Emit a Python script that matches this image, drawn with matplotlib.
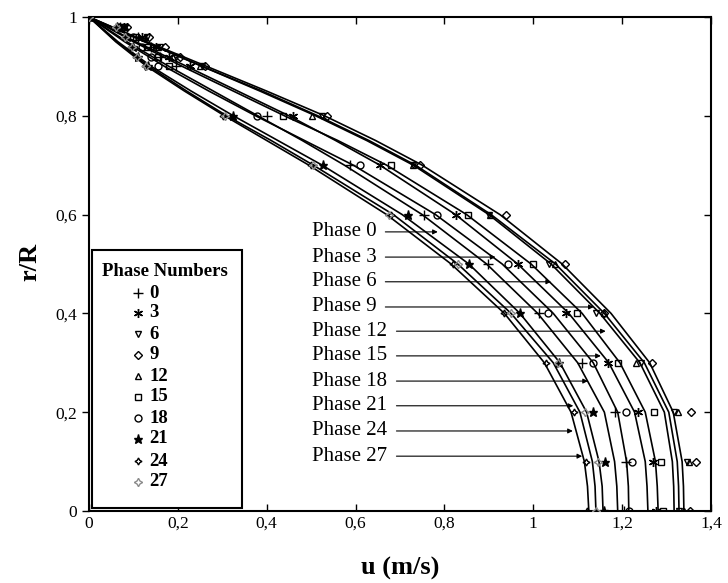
import matplotlib
matplotlib.use("Agg")
import matplotlib.pyplot as plt
from matplotlib.patches import Rectangle

plt.rcParams['font.family'] = ['Liberation Serif', 'DejaVu Serif']

# measured points (r/R levels shared by all phases)
r_meas = [1.0, 0.98, 0.96, 0.94, 0.92, 0.9, 0.8, 0.7, 0.6, 0.5, 0.4, 0.3, 0.2, 0.1, 0.0]

u_ph0 = [0, 0.070, 0.110, 0.140, 0.160, 0.195, 0.400, 0.588, 0.753, 0.899, 1.012, 1.110, 1.185, 1.208, 1.204]
u_ph3 = [0, 0.078, 0.120, 0.150, 0.180, 0.228, 0.460, 0.656, 0.825, 0.965, 1.073, 1.168, 1.235, 1.269, 1.276]
u_ph6 = [0, 0.080, 0.130, 0.160, 0.195, 0.255, 0.525, 0.730, 0.900, 1.035, 1.141, 1.242, 1.316, 1.345, 1.328]
u_ph9 = [0, 0.085, 0.135, 0.170, 0.205, 0.262, 0.535, 0.745, 0.938, 1.071, 1.160, 1.267, 1.355, 1.366, 1.352]
u_ph12 = [0, 0.080, 0.125, 0.155, 0.190, 0.250, 0.503, 0.730, 0.902, 1.048, 1.159, 1.231, 1.325, 1.350, 1.340]
u_ph15 = [0, 0.072, 0.105, 0.130, 0.155, 0.180, 0.437, 0.680, 0.854, 0.999, 1.098, 1.190, 1.272, 1.287, 1.292]
u_ph18 = [0, 0.068, 0.100, 0.120, 0.140, 0.155, 0.378, 0.610, 0.784, 0.942, 1.033, 1.134, 1.208, 1.222, 1.215]
u_ph21 = [0, 0.062, 0.085, 0.100, 0.110, 0.133, 0.325, 0.526, 0.717, 0.855, 0.969, 1.058, 1.134, 1.161, 1.159]
u_ph24 = [0, 0.060, 0.080, 0.095, 0.105, 0.125, 0.302, 0.500, 0.679, 0.820, 0.933, 1.028, 1.091, 1.118, 1.121]
u_ph27 = [0, 0.060, 0.082, 0.097, 0.108, 0.128, 0.305, 0.505, 0.675, 0.830, 0.949, 1.055, 1.116, 1.145, 1.142]

# fitted profiles
r_fit = [1.0, 0.95, 0.9, 0.85, 0.8, 0.75, 0.7, 0.6, 0.5, 0.4, 0.3, 0.2, 0.1, 0.05, 0.0]

fit_ph0 = [0, 0.085, 0.180, 0.280, 0.380, 0.480, 0.575, 0.750, 0.895, 1.010, 1.100, 1.160, 1.183, 1.188, 1.190]
fit_ph3 = [0, 0.105, 0.220, 0.335, 0.450, 0.555, 0.655, 0.825, 0.965, 1.080, 1.170, 1.228, 1.252, 1.256, 1.258]
fit_ph6 = [0, 0.125, 0.255, 0.385, 0.510, 0.625, 0.730, 0.900, 1.040, 1.150, 1.240, 1.295, 1.313, 1.316, 1.317]
fit_ph9 = [0, 0.130, 0.265, 0.400, 0.530, 0.645, 0.750, 0.925, 1.065, 1.175, 1.262, 1.315, 1.335, 1.338, 1.339]
fit_ph12 = [0, 0.125, 0.255, 0.390, 0.515, 0.630, 0.735, 0.905, 1.050, 1.160, 1.250, 1.305, 1.324, 1.327, 1.328]
fit_ph15 = [0, 0.100, 0.210, 0.325, 0.440, 0.560, 0.670, 0.850, 0.995, 1.110, 1.195, 1.252, 1.275, 1.279, 1.281]
fit_ph18 = [0, 0.080, 0.170, 0.270, 0.375, 0.485, 0.595, 0.780, 0.930, 1.045, 1.135, 1.190, 1.210, 1.214, 1.215]
fit_ph21 = [0, 0.065, 0.140, 0.230, 0.325, 0.425, 0.525, 0.705, 0.855, 0.970, 1.060, 1.120, 1.148, 1.155, 1.157]
fit_ph24 = [0, 0.060, 0.130, 0.215, 0.305, 0.400, 0.495, 0.670, 0.815, 0.935, 1.025, 1.085, 1.115, 1.122, 1.125]
fit_ph27 = [0, 0.062, 0.135, 0.220, 0.310, 0.410, 0.505, 0.685, 0.830, 0.950, 1.045, 1.105, 1.133, 1.139, 1.141]

phases = [0, 3, 6, 9, 12, 15, 18, 21, 24, 27]
u_meas = [u_ph0, u_ph3, u_ph6, u_ph9, u_ph12, u_ph15, u_ph18, u_ph21, u_ph24, u_ph27]
u_fit = [fit_ph0, fit_ph3, fit_ph6, fit_ph9, fit_ph12, fit_ph15, fit_ph18, fit_ph21, fit_ph24, fit_ph27]

# where the label arrows end (u, r/R) and where the labels sit
arrow_u = [0.785, 0.915, 1.040, 1.136, 1.163, 1.152, 1.123, 1.090, 1.089, 1.110]
label_r = [0.565, 0.514, 0.464, 0.413, 0.364, 0.314, 0.263, 0.213, 0.162, 0.111]

markers = ['+', (6, 2, 0), 'v', 'D', '^', 's', 'o', '*', (4, 1, 0), (4, 1, 0)]
msizes = [6.5, 6.5, 5, 4.5, 5, 4.5, 5, 6.5, 5, 6]
mcolors = ['black'] * 9 + ['#8c8c8c']
mfill = ['none', 'black', 'none', 'none', 'none', 'none', 'none', 'black', 'none', 'none']

fig = plt.figure(figsize=(7.28, 5.83), dpi=100)
ax = fig.add_axes([89 / 728, 72 / 583, 622 / 728, 494 / 583])

for uf in u_fit:
    ax.plot(uf, r_fit, color='black', lw=1.2, zorder=2)

for um, mk, ms, mc, mf in zip(u_meas, markers, msizes, mcolors, mfill):
    ax.plot(um, r_meas, linestyle='none', marker=mk, ms=ms, mec=mc, mfc=mf,
            mew=1.0, zorder=3)

for ph, ua, rl in zip(phases, arrow_u, label_r):
    ax.text(0.503, rl, 'Phase %d' % ph, fontsize=15, ha='left', va='center')
    x0 = 0.667 if ph < 10 else 0.692
    ax.annotate('', xy=(ua, rl), xytext=(x0, rl),
                arrowprops=dict(arrowstyle='-|>', lw=0.8, color='black',
                                mutation_scale=7, shrinkA=0, shrinkB=0))

ax.set_xlim(0, 1.4)
ax.set_ylim(0, 1)
xt = [0, 0.2, 0.4, 0.6, 0.8, 1.0, 1.2, 1.4]
yt = [0, 0.2, 0.4, 0.6, 0.8, 1.0]
ax.set_xticks(xt)
ax.set_yticks(yt)
ax.set_xticklabels(['0', '0,2', '0,4', '0,6', '0,8', '1', '1,2', '1,4'], fontsize=12.5)
ax.set_yticklabels(['0', '0,2', '0,4', '0,6', '0,8', '1'], fontsize=12.5)
ax.tick_params(axis='x', direction='in', length=5, top=True, width=1)
ax.tick_params(axis='y', direction='out', length=5, width=1)
ax.tick_params(axis='y', which='both', right=True)
for t in ax.yaxis.get_major_ticks():
    t.tick2line.set_marker(0)
for sp in ax.spines.values():
    sp.set_linewidth(1.5)

fig.text(400 / 728, 15 / 583, 'u (m/s)', fontsize=19, fontweight='bold',
         ha='center', va='center')
fig.text(30 / 728, 321 / 583, 'r/R', fontsize=19, fontweight='bold',
         ha='center', va='center', rotation=90)

# legend box drawn by hand
ax.add_patch(Rectangle((0.005, 0.006), 0.241, 0.522, transform=ax.transAxes,
                       fill=True, facecolor='white', edgecolor='black',
                       lw=1.5, zorder=5))
ax.text(0.122, 0.484, 'Phase Numbers', transform=ax.transAxes, fontsize=13.5,
        fontweight='bold', ha='center', va='center', zorder=6)
leg_y = [0.441, 0.401, 0.358, 0.316, 0.273, 0.231, 0.188, 0.146, 0.101, 0.059]
for ph, ly, mk, ms, mc, mf in zip(phases, leg_y, markers, msizes, mcolors, mfill):
    ax.plot([0.079], [ly], transform=ax.transAxes, linestyle='none', marker=mk,
            ms=ms, mec=mc, mfc=mf, mew=1.0, zorder=6, clip_on=False)
    ax.text(0.097, ly, str(ph), transform=ax.transAxes, fontsize=13.5,
            fontweight='bold', ha='left', va='center', zorder=6)

fig.savefig('out.png', dpi=100)
